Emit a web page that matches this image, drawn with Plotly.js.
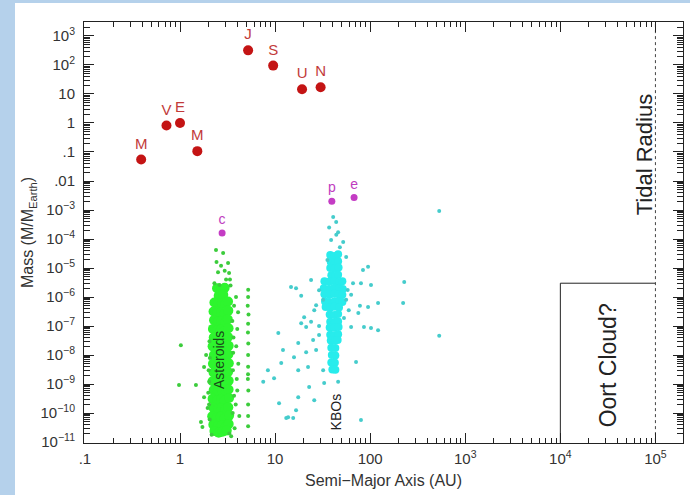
<!DOCTYPE html>
<html>
<head>
<meta charset="utf-8">
<script src="https://cdn.plot.ly/plotly-3.0.1.min.js"></script>
<style>
  html, body { margin: 0; padding: 0; background: #b5d1eb; width: 690px; height: 495px; overflow: hidden; }
  #chart { position: absolute; left: 15px; top: 3px; width: 675px; height: 492px; background: #fff; }
</style>
</head>
<body>
<div id="chart"></div>
<script>
// ---- Planets ----
const planetNames = ["M", "V", "E", "M", "J", "S", "U", "N"];
const planetA = [0.39, 0.72, 1.0, 1.52, 5.2, 9.54, 19.2, 30.1];
const planetM = [0.055, 0.815, 1.0, 0.107, 318, 95, 14.5, 17.1];

// ---- Dwarf planets ----
const dwarfNames = ["c", "p", "e"];
const dwarfA = [2.77, 39.5, 67.7];
const dwarfM = [1.6e-4, 2.0e-3, 2.7e-3];

// ---- Main-belt asteroid core (dense) ----
const astCoreA = [
  2.45, 2.72, 2.95, 2.55, 2.85,
  2.3, 2.5, 2.75, 3.0, 3.2,
  2.25, 2.45, 2.7, 2.95, 3.22,
  2.28, 2.5, 2.72, 2.98, 3.18,
  2.22, 2.45, 2.68, 2.93, 3.24,
  2.26, 2.52, 2.75, 3.0, 3.2,
  2.2, 2.44, 2.7, 2.96, 3.25,
  2.27, 2.5, 2.78, 3.02, 3.22,
  2.22, 2.46, 2.7, 2.95, 3.26,
  2.25, 2.52, 2.74, 3.0, 3.2,
  2.2, 2.44, 2.68, 2.96, 3.25,
  2.26, 2.5, 2.76, 3.03, 3.24,
  2.2, 2.45, 2.7, 2.94, 3.28,
  2.24, 2.52, 2.76, 3.0, 3.22,
  2.18, 2.44, 2.68, 2.95, 3.28,
  2.24, 2.5, 2.75, 3.02, 3.25,
  2.3, 2.55, 2.8, 3.1
];
const astCoreM = [
  2.0e-6, 1.8e-6, 2.1e-6, 1.1e-6, 1.2e-6,
  6.5e-7, 5.5e-7, 6.2e-7, 5.8e-7, 7e-7,
  3.2e-7, 2.8e-7, 3.0e-7, 2.7e-7, 3.4e-7,
  1.6e-7, 1.4e-7, 1.5e-7, 1.35e-7, 1.7e-7,
  8e-8, 7e-8, 7.5e-8, 6.8e-8, 8.4e-8,
  4e-8, 3.5e-8, 3.8e-8, 3.4e-8, 4.2e-8,
  2e-8, 1.75e-8, 1.9e-8, 1.7e-8, 2.1e-8,
  1e-8, 8.8e-9, 9.5e-9, 8.5e-9, 1.05e-8,
  5e-9, 4.4e-9, 4.7e-9, 4.2e-9, 5.2e-9,
  2.5e-9, 2.2e-9, 2.35e-9, 2.1e-9, 2.6e-9,
  1.25e-9, 1.1e-9, 1.2e-9, 1.05e-9, 1.3e-9,
  6.2e-10, 5.5e-10, 5.9e-10, 5.3e-10, 6.5e-10,
  3.1e-10, 2.8e-10, 3e-10, 2.65e-10, 3.3e-10,
  1.55e-10, 1.4e-10, 1.5e-10, 1.33e-10, 1.6e-10,
  7.8e-11, 7e-11, 7.5e-11, 6.6e-11, 8.2e-11,
  4e-11, 3.6e-11, 3.8e-11, 3.4e-11, 4.2e-11,
  2.4e-11, 2.1e-11, 2.3e-11, 2.5e-11
];

// ---- Scattered asteroids (edges, Hildas, Trojans, NEAs) ----
const astA = [
  2.39, 2.84, 2.51, 3.2, 3.28, 2.7, 3.05, 2.3, 3.4, 2.6, 2.95, 2.42,
  1.88, 1.47, 1.79, 1.79, 1.66, 1.72, 2.02, 2.05, 1.95, 2.0, 2.03, 1.98, 2.06, 2.04,
  3.88, 4.08, 4.0, 3.9, 4.1, 3.95, 4.0, 3.85, 4.2, 3.7, 3.65, 3.6, 3.7, 3.75, 3.55, 3.62, 3.58,
  5.2, 5.15, 5.25, 5.2, 5.18, 5.22, 5.2, 5.2, 5.17, 5.23, 5.2, 5.2, 5.2, 5.21, 5.19,
  1.02, 0.976, 3.3, 3.45, 2.15, 3.35
];
const astM = [
  4.2e-5, 3.3e-5, 7.2e-6, 1.5e-5, 6.8e-6, 1.2e-5, 4e-6, 3e-6, 2.5e-6, 2.6e-6, 8e-6, 1.6e-5,
  1e-8, 9.3e-10, 3.9e-9, 3.5e-10, 4.9e-11, 3.3e-11, 2e-10, 6e-11, 1.5e-10, 3e-9, 1.2e-9, 5e-10, 8e-9, 3e-8,
  1e-6, 3e-7, 8e-8, 2e-8, 5e-9, 1.5e-9, 6e-10, 2e-10, 8e-11, 5e-7, 4e-8, 3e-9, 4e-10, 3e-11, 1.5e-7, 1.2e-8, 1e-10,
  1e-6, 5e-7, 2.5e-7, 1.2e-7, 6e-8, 2.5e-8, 1e-8, 4e-9, 1.5e-9, 6e-10, 2e-10, 8e-11, 3.5e-11, 1.8e-6, 2.2e-9,
  2.2e-8, 9.3e-10, 2e-11, 1.6e-11, 1.8e-11, 4e-6
];

// ---- Kuiper belt core (dense) ----
const kboCoreA = [
  38, 42, 46, 38.5, 42.5, 46, 38, 42, 46.5, 39, 43, 46,
  33, 37, 42, 47, 51, 32.5, 37, 42, 47, 51.5, 33, 37.5, 42, 46.5, 51, 33.5, 37, 42.5, 47, 51, 34, 38, 42, 47,
  37.5, 42, 46, 38, 42.5, 46, 37.5, 42, 46.5, 38, 42, 46, 38.5, 42.5, 45.5,
  39, 43, 39.5, 43, 39, 42.5, 40, 43
];
const kboCoreM = [
  2.8e-5, 2.6e-5, 3e-5, 1.6e-5, 1.5e-5, 1.7e-5, 1e-5, 9.5e-6, 1.05e-5, 5.6e-6, 5.3e-6, 5.9e-6,
  3.5e-6, 3.4e-6, 3.6e-6, 3.3e-6, 3.5e-6, 2e-6, 1.9e-6, 2.1e-6, 2e-6, 1.9e-6, 1.26e-6, 1.2e-6, 1.3e-6, 1.25e-6, 1.2e-6, 7e-7, 6.8e-7, 7.2e-7, 7e-7, 6.7e-7, 4.5e-7, 4.3e-7, 4.6e-7, 4.4e-7,
  2.5e-7, 2.4e-7, 2.6e-7, 1.4e-7, 1.35e-7, 1.45e-7, 9e-8, 8.7e-8, 9.3e-8, 5e-8, 4.8e-8, 5.2e-8, 3.2e-8, 3.1e-8, 3.3e-8,
  1.8e-8, 1.75e-8, 1e-8, 9.6e-9, 5.6e-9, 5.4e-9, 3.2e-9, 3.1e-9
];

// ---- Scattered KBOs / scattered disk ----
const kboA = [
  40.8, 46, 52, 55.9, 95, 84, 23.9, 14.7, 16.6, 80, 102, 228, 222, 121, 95, 78, 75, 63, 86, 102, 121,
  25.8, 20.2, 18.8, 21.2, 23.9, 29, 17.5, 25.1, 29, 27, 21.2, 15.8, 12.1, 22.2, 17.5, 32, 71, 11.6,
  8.4, 9.75, 7.5, 32.8, 22.8, 17.5, 25.8, 11, 16.6, 13.1, 15.5, 80, 46, 10.8, 13.7, 532, 532,
  43.9, 38.8, 48, 35.5, 58, 55.9, 63, 59.5, 53, 66, 29, 32, 27, 18.8, 44, 37
];
const kboM = [
  5.7e-4, 1.7e-4, 7.9e-5, 2.4e-5, 1.1e-5, 8.5e-6, 3.9e-6, 2.2e-6, 2e-6, 3e-6, 2.6e-6, 3.3e-6, 6.2e-7, 6.2e-7, 4.5e-7, 5e-7, 2.8e-7, 9.3e-8, 9.3e-8, 8.5e-8, 7.2e-8,
  3.5e-7, 2e-7, 1.26e-7, 9.3e-8, 1.4e-7, 1e-7, 2.6e-8, 3.3e-8, 4.9e-8, 1.5e-8, 1.26e-8, 8.5e-9, 1.5e-8, 3.9e-9, 3e-9, 3e-9, 5.8e-9, 5.3e-9,
  3e-9, 1.6e-9, 1.2e-9, 1.1e-9, 7.9e-10, 3.5e-10, 2.8e-10, 2.2e-10, 1.26e-10, 6.8e-11, 6.8e-11, 5.8e-11, 1.2e-9, 5.8e-8, 7.2e-11, 9.3e-4, 4.6e-8,
  3.9e-4, 9.3e-5, 5.2e-5, 1.9e-5, 1.74e-6, 8e-7, 1.2e-6, 3.5e-7, 1.9e-7, 3e-6, 1.7e-6, 8e-7, 5.2e-7, 1.1e-6, 1.4e-4, 2.5e-4
];

// ---- Oort cloud box and tidal radius ----
const oortX = [1e4, 1e4, 1e5];
const oortY = [1e-12, 3e-6, 3e-6];
const tidalX = [1e5, 1e5];
const tidalY = [1e-12, 1e4];

// ---- Tick labels ----
const xTickVals = [0.1, 1, 10, 100, 1e3, 1e4, 1e5];
const xTickText = [".1", "1", "10", "100", "10<sup>3</sup>", "10<sup>4</sup>", "10<sup>5</sup>"];
const yTickVals = [1e3, 1e2, 10, 1, 0.1, 0.01, 1e-3, 1e-4, 1e-5, 1e-6, 1e-7, 1e-8, 1e-9, 1e-10, 1e-11];
const yTickText = ["10<sup>3</sup>", "10<sup>2</sup>", "10", "1", ".1", ".01",
  "10<sup>−3</sup>", "10<sup>−4</sup>", "10<sup>−5</sup>", "10<sup>−6</sup>", "10<sup>−7</sup>",
  "10<sup>−8</sup>", "10<sup>−9</sup>", "10<sup>−10</sup>", "10<sup>−11</sup>"];

function minorTicks(d0, d1) {
  const out = [];
  for (let d = d0; d <= d1; d++) for (let k = 2; k <= 9; k++) out.push(k * Math.pow(10, d));
  return out;
}

const FONT = "Liberation Sans, Arial, Helvetica, sans-serif";

const traces = [
  { x: astCoreA, y: astCoreM, type: "scatter", mode: "markers",
    marker: { size: 10, color: "#2ef52e", line: { width: 0 } }, hoverinfo: "skip" },
  { x: astA, y: astM, type: "scatter", mode: "markers",
    marker: { size: 4, color: "#3ccc3c", line: { width: 0 } }, hoverinfo: "skip" },
  { x: kboCoreA, y: kboCoreM, type: "scatter", mode: "markers",
    marker: { size: 8, color: "#28ecec", line: { width: 0 } }, hoverinfo: "skip" },
  { x: kboA, y: kboM, type: "scatter", mode: "markers",
    marker: { size: 4, color: "#45cccc", line: { width: 0 } }, hoverinfo: "skip" },
  { x: oortX, y: oortY, type: "scatter", mode: "lines",
    line: { color: "#222", width: 1 }, hoverinfo: "skip" },
  { x: tidalX, y: tidalY, type: "scatter", mode: "lines",
    line: { color: "#444", width: 1, dash: "dot" }, hoverinfo: "skip" },
  { x: planetA, y: planetM, text: planetNames, type: "scatter", mode: "markers+text",
    textposition: "top center", textfont: { family: FONT, size: 15, color: "#c23a3a" },
    marker: { size: 10, color: "#c41414" }, hoverinfo: "skip" },
  { x: dwarfA, y: dwarfM, text: dwarfNames, type: "scatter", mode: "markers+text",
    textposition: "top center", textfont: { family: FONT, size: 14, color: "#c03cc0" },
    marker: { size: 7, color: "#c43cc4" }, hoverinfo: "skip" }
];

const axisCommon = {
  type: "log",
  showgrid: false, zeroline: false,
  showline: true, linecolor: "#222", linewidth: 1,
  mirror: "allticks",
  ticks: "inside", tickcolor: "#222", tickwidth: 1, ticklen: 10,
  tickmode: "array",
  tickfont: { family: FONT, size: 15, color: "#333" }
};

const layout = {
  width: 675, height: 492,
  margin: { l: 69, r: 7, t: 19, b: 52 },
  paper_bgcolor: "#ffffff", plot_bgcolor: "#ffffff",
  showlegend: false,
  font: { family: FONT, color: "#333" },
  xaxis: Object.assign({}, axisCommon, {
    range: [-1.01, 5.29],
    tickvals: xTickVals, ticktext: xTickText,
    ticklabelstandoff: 2,
    minor: { tickmode: "array", tickvals: minorTicks(-1, 5), ticks: "inside", ticklen: 5, tickcolor: "#222" },
    title: { text: "Semi−Major Axis (AU)", font: { family: FONT, size: 16, color: "#333" }, standoff: 8 }
  }),
  yaxis: Object.assign({}, axisCommon, {
    range: [-11.03, 3.48],
    tickvals: yTickVals, ticktext: yTickText,
    ticklabelstandoff: 5,
    minor: { tickmode: "array", tickvals: minorTicks(-12, 3), ticks: "inside", ticklen: 6, tickcolor: "#222" },
    title: { text: "Mass (M/M<sub>Earth</sub>)", font: { family: FONT, size: 16, color: "#333" }, standoff: 2 }
  }),
  annotations: [
    { x: 4.505, y: -8.34, xref: "x", yref: "y", text: "Oort Cloud?", textangle: -90, showarrow: false,
      font: { family: FONT, size: 23, color: "#222" } },
    { x: 4.884, y: -1.10, xref: "x", yref: "y", text: "Tidal Radius", textangle: -90, showarrow: false,
      font: { family: FONT, size: 22, color: "#222" } },
    { x: 0.41, y: -8.17, xref: "x", yref: "y", text: "Asteroids", textangle: -90, showarrow: false,
      font: { family: FONT, size: 14, color: "#1a4a1a" } },
    { x: 1.642, y: -9.97, xref: "x", yref: "y", text: "KBOs", textangle: -90, showarrow: false,
      font: { family: FONT, size: 14, color: "#222" } }
  ]
};

Plotly.newPlot("chart", traces, layout, { displayModeBar: false, staticPlot: true });
</script>
</body>
</html>
